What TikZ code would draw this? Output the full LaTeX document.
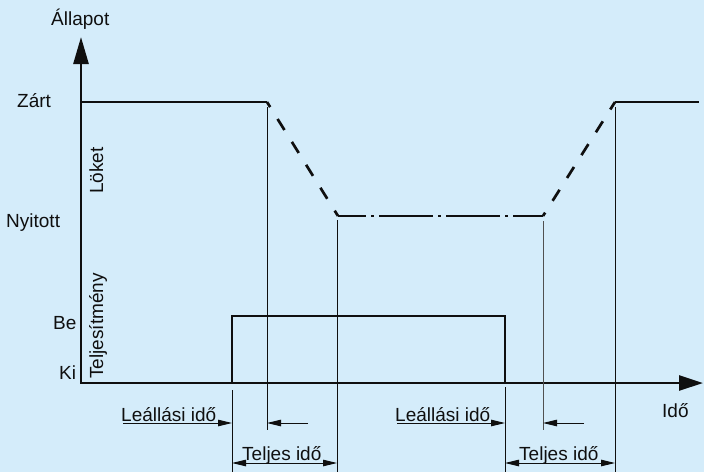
\documentclass[tikz,border=0pt]{standalone}
\usepackage{fontspec}
\setmainfont{Liberation Sans}
\usetikzlibrary{arrows.meta}
\definecolor{paper}{RGB}{212,236,250}
\definecolor{ink}{RGB}{15,15,15}
\definecolor{greyline}{RGB}{80,80,80}

\begin{document}
\begin{tikzpicture}[x=1pt,y=-1pt,
		thickline/.style={line width=2.7pt, draw=ink},
		thinline/.style={line width=0.9pt, draw=ink},
		dimarrow/.style={thinline, -{Triangle[length=14pt,width=6.5pt]}},
		dimboth/.style={thinline, {Triangle[length=14pt,width=6.5pt]}-{Triangle[length=14pt,width=6.5pt]}},
		axisarrows/.style={thickline, {Triangle[length=27pt,width=15pt]}-{Triangle[length=24pt,width=15pt]}},
		strokedash/.style={thickline, dash pattern=on 13pt off 14pt},
		chaindash/.style={line width=2.5pt, draw=ink, dash pattern=on 54pt off 5pt on 3pt off 5pt, dash phase=25.7pt},
		txt/.style={inner sep=0pt, font=\fontsize{19}{21}\selectfont, text=ink}]
				\fill[paper] (0,0) rectangle (704,472);
				\useasboundingbox (0,0) rectangle (704,472);
				% points of the two curves
				\coordinate (origin) at (81,383);
				\coordinate (ytip) at (81,37);
				\coordinate (xtip) at (703,383);
				\coordinate (zart1) at (81,102);
				\coordinate (close1) at (267,102);
				\coordinate (open1) at (338,216);
				\coordinate (open2) at (543,216);
				\coordinate (close2) at (615,102);
				\coordinate (zart2) at (699,102);
				\coordinate (on1) at (232,383);
				\coordinate (on2) at (232,316);
				\coordinate (off1) at (505,316);
				\coordinate (off2) at (505,383);
				% axes
				\draw[axisarrows] (ytip) |- (xtip);
				% stroke
				\draw[thickline] (zart1) -- (close1);
				\draw[strokedash, dash phase=7pt] (close1) -- (open1);
				\draw[chaindash] (open1) -- (open2);
				\draw[strokedash, dash phase=9pt] (open2) -- (close2);
				\draw[thickline] (close2) -- (zart2);
				% power
				\draw[thickline] (on1) -- (on2) -- (off1) -- (off2);
				% thin guide lines
				\coordinate (g1a) at (232,390);
				\coordinate (g1b) at (232,472);
				\coordinate (g2a) at (267,107);
				\coordinate (g2b) at (267,430);
				\coordinate (g3a) at (337,220);
				\coordinate (g3b) at (337,472);
				\coordinate (g4a) at (505,387);
				\coordinate (g4b) at (505,472);
				\coordinate (g5a) at (543,221);
				\coordinate (g5b) at (543,430);
				\coordinate (g6a) at (615,107);
				\coordinate (g6b) at (615,472);
				\draw[thinline] (g1a) -- (g1b);
				\draw[thinline] (g2a) -- (g2b);
				\draw[thinline] (g3a) -- (g3b);
				\draw[thinline] (g4a) -- (g4b);
				\draw[thinline, draw=greyline] (g5a) -- (g5b);
				\draw[thinline] (g6a) -- (g6b);
				% dimension lines
				\coordinate (l1a) at (123,423);
				\coordinate (l1b) at (308,423);
				\coordinate (l2a) at (397,423);
				\coordinate (l2b) at (584,423);
				\draw[dimarrow] (l1a) -- (l1a -| g1a);
				\draw[dimarrow] (l1b) -- (l1b -| g2a);
				\draw[dimarrow] (l2a) -- (l2a -| g4a);
				\draw[dimarrow] (l2b) -- (l2b -| g5a);
				\coordinate (t1) at (232,463);
				\coordinate (t2) at (505,463);
				\draw[dimboth] (t1) -- (t1 -| g3a);
				\draw[dimboth] (t2) -- (t2 -| g6a);
				% labels
				\node[txt, anchor=base west] (allapot) at (51,25) {Állapot};
				\node[txt, anchor=base west] (zart) at (17,107) {Zárt};
				\node[txt, anchor=base west] (nyitott) at (6,227) {Nyitott};
				\node[txt, anchor=base west] (be) at (53,329) {Be};
				\node[txt, anchor=base west] (ki) at (59,379) {Ki};
				\node[txt, anchor=base west] (ido) at (662,417) {Idő};
				\node[txt, anchor=base west, rotate=90] (loket) at (103,194) {Löket};
				\node[txt, anchor=base west, rotate=90] (telj) at (103,379) {Teljesítmény};
				\node[txt, anchor=base west] (leall1) at (121,421) {Leállási idő};
				\node[txt, anchor=base west] (leall2) at (395,421) {Leállási idő};
				\node[txt, anchor=base west] (teljes1) at (242,460) {Teljes idő};
				\node[txt, anchor=base west] (teljes2) at (519,460) {Teljes idő};
			\end{tikzpicture}
\end{document}
